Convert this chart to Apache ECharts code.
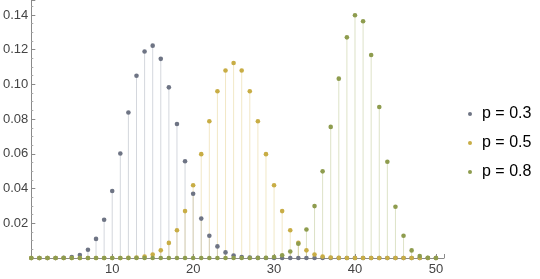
<!DOCTYPE html>
<html><head><meta charset="utf-8">
<script src="https://cdn.jsdelivr.net/npm/echarts@6/dist/echarts.min.js"></script>
<style>html,body{margin:0;padding:0;background:#fff}#c{width:540px;height:279px}</style>
</head><body><div id="c"></div>
<script>
// k = 0..50
const categories = Array.from({length: 51}, (_, i) => i);
const seriesNames = ['p = 0.3', 'p = 0.5', 'p = 0.8'];
const valuesP03 = [0,0,0,0.00003,0.00014,0.00055,0.00177,0.00477,0.0110,0.0220,
  0.0386,0.0602,0.0838,0.1050,0.1189,0.1223,0.1147,0.0983,0.0772,0.0557,
  0.0370,0.0227,0.0128,0.00668,0.00322,0.00144,0.00059,0.00022,0.00008,0.00002,
  0,0,0,0,0,0,0,0,0,0,0,0,0,0,0,0,0,0,0,0,0];
const valuesP05 = [0,0,0,0,0,0,0,0,0,0,
  0,0.00001,0.0001,0.0003,0.0008,0.0020,0.0044,0.0087,0.0160,0.0270,
  0.0419,0.0598,0.0788,0.0960,0.1080,0.1123,0.1080,0.0960,0.0788,0.0598,
  0.0419,0.0270,0.0160,0.0087,0.0044,0.0020,0.0008,0.0003,0.0001,0.00001,
  0,0,0,0,0,0,0,0,0,0,0];
const valuesP08 = [0,0,0,0,0,0,0,0,0,0,
  0,0,0,0,0,0,0,0,0,0,
  0,0,0,0,0,0,0,0,0.00004,0.00016,
  0.00061,0.00158,0.00375,0.0082,0.0164,0.0299,0.0499,0.0755,0.1033,0.1271,
  0.1398,0.1364,0.1169,0.0870,0.0554,0.0295,0.0128,0.00437,0.00109,0.00018,0.00001];
const yTicks = [0.02,0.04,0.06,0.08,0.10,0.12,0.14];

const allValues = [valuesP03, valuesP05, valuesP08];
const dotColors = ['#6e7484', '#c8ad45', '#8e9c4e'];
const stemColors = ['rgba(120,130,150,0.32)', 'rgba(215,185,80,0.32)', 'rgba(150,165,80,0.32)'];

const series = [];
allValues.forEach((vals, i) => {
  series.push({
    name: seriesNames[i] + ' stem', type: 'bar', barWidth: 1, barGap: '-100%',
    z: 1, silent: true,
    itemStyle: {color: stemColors[i]},
    data: categories.map((k, j) => [k, vals[j]])
  });
});
allValues.forEach((vals, i) => {
  series.push({
    name: seriesNames[i], type: 'scatter', symbol: 'circle', symbolSize: 4.6,
    z: 3, itemStyle: {color: dotColors[i], opacity: 1},
    data: categories.map((k, j) => [k, vals[j]])
  });
});

const chart = echarts.init(document.getElementById('c'), null, {renderer: 'canvas'});
chart.setOption({
  animation: false,
  backgroundColor: '#fff',
  grid: {left: 28, right: 96, top: 0, bottom: 21, containLabel: false},
  legend: {
    data: seriesNames.map(n => ({name: n, icon: 'circle'})),
    orient: 'vertical', left: 463, top: 100,
    itemWidth: 14, itemHeight: 4, itemGap: 11,
    textStyle: {fontSize: 16, color: '#000', fontFamily: 'Liberation Sans, Arial, sans-serif', lineHeight: 18}
  },
  xAxis: {
    type: 'value', min: 0, max: 51, interval: 10,
    splitLine: {show: false},
    axisLine: {onZero: false, lineStyle: {color: '#8a8a8a', width: 1}},
    axisTick: {inside: true, length: 4, lineStyle: {color: '#8a8a8a'}},
    minorTick: {show: true, splitNumber: 5, length: 2, lineStyle: {color: '#aaa'}},
    axisLabel: {
      margin: 5, fontSize: 13, color: '#444', fontFamily: 'Liberation Sans, Arial, sans-serif',
      showMaxLabel: false,
      formatter: v => v === 0 ? '' : String(v)
    }
  },
  yAxis: {
    type: 'value', min: 0, max: 0.1486, interval: 0.02,
    splitLine: {show: false},
    axisLine: {show: true, onZero: false, lineStyle: {color: '#8a8a8a', width: 1}},
    axisTick: {show: true, inside: true, length: 4, lineStyle: {color: '#8a8a8a'}},
    minorTick: {show: true, splitNumber: 4, length: 2, lineStyle: {color: '#aaa'}},
    axisLabel: {
      margin: 3, fontSize: 13, color: '#444', fontFamily: 'Liberation Sans, Arial, sans-serif',
      showMaxLabel: false,
      formatter: v => {
        const t = yTicks.find(y => Math.abs(y - v) < 1e-9);
        return t === undefined ? '' : t.toFixed(2);
      }
    }
  },
  series: series
});
</script></body></html>
